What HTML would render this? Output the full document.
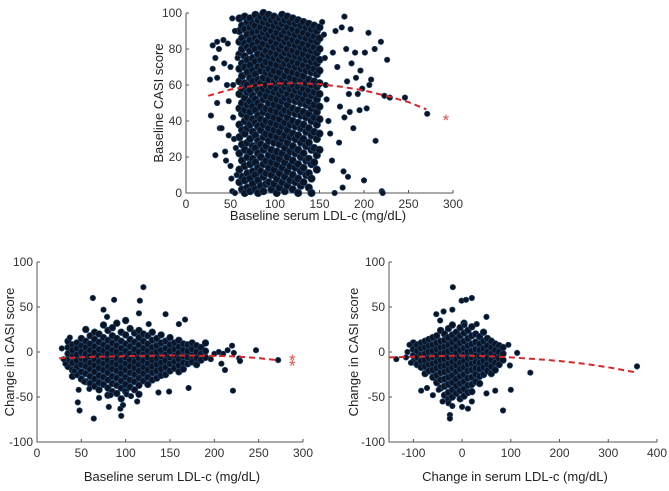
<!DOCTYPE html>
<html><head><meta charset="utf-8"><style>
html,body{margin:0;padding:0;background:#fff;}
svg{display:block;font-family:"Liberation Sans",sans-serif;}
</style></head><body>
<svg id="fig" width="669" height="491" viewBox="0 0 669 491"></svg>
<script>
// ---------- DATA ----------
const topCore = "60:97,90,84,77,69,62,55,47,38,31,22,13,6;63:93,86,80,72,65,58,50,44,35,27,18,9,2;66:98,91,83,76,70,61,53,46,40,33,24,15,7,0;69:95,88,81,74,67,60,56,49,42,36,28,20,11,3;72:97,92,85,79,71,64,57,51,45,38,30,23,16,8,1;75:94,89,82,75,68,62,54,48,41,34,26,19,12,5;78:99,93,86,80,73,66,59,52,46,39,32,25,17,10,2;81:96,90,84,77,70,63,57,50,43,37,29,22,14,7,0;84:98,92,87,81,74,68,61,55,48,41,35,27,20,12,4;87:100,95,89,83,77,71,64,58,52,45,38,31,24,16,9,1;90:97,91,86,79,73,67,60,54,47,40,33,26,18,11,5;93:99,94,88,82,76,69,63,57,50,43,36,29,21,14,6;96:96,90,84,78,72,66,59,53,46,39,32,24,17,10,2;99:98,93,87,81,75,68,62,56,49,42,35,28,20,13,5;102:95,89,83,77,71,64,58,52,45,38,31,23,16,8,0;105:97,92,86,80,74,67,61,55,48,41,34,27,19,11,3;108:99,94,88,82,76,70,63,57,51,44,37,30,22,14,6;111:96,90,84,78,72,65,59,53,46,39,32,25,17,9,1;114:98,92,86,80,74,68,61,55,49,42,35,28,20,12,4;117:95,89,83,77,71,64,58,52,45,38,31,23,15,7;120:97,91,85,79,73,67,60,54,47,40,33,26,18,10,2;123:94,88,82,76,70,63,57,51,44,37,30,22,14,6;126:96,90,84,78,72,66,59,53,46,39,32,24,16,8,0;129:93,87,81,75,69,62,56,50,43,36,28,20,12,4;132:95,89,83,77,71,65,58,52,45,38,30,22,14,6;135:92,86,80,74,68,61,55,49,42,34,26,18,10;138:94,88,82,76,70,63,57,51,44,36,28,19,11,3;141:91,85,79,73,67,60,54,47,40,32,24,16,8,0;144:93,87,81,75,69,62,56,49,42,34,25,17;147:90,84,78,72,66,59,52,45,38,30,21,13;150:92,86,80,74,68,61,55,48,41,33,24";
const topExtraX = [27,28,30,30,33,35,35,35,37,38,40,42,43,33,44,45,46,47,48,48,50,50,52,52,55,54,53,55,57,58,56,53,51,153,155,156,157,158,160,162,164,165,167,168,170,172,173,175,176,177,178,178,180,181,182,183,184,185,186,188,190,191,193,195,196,198,200,201,203,205,206,208,212,213,219,220,221,223,226,229,246,271];
const topExtraY = [63,43,82,69,75,84,64,50,80,36,36,85,72,21,23,18,60,83,51,32,15,70,97,1,0,30,42,90,10,75,25,60,8,95,88,75,60,52,40,33,18,78,0,90,70,28,48,92,3,12,98,42,80,62,9,55,45,91,72,36,78,64,55,46,68,58,7,78,47,89,60,63,80,29,84,1,0,54,74,53,53,44];
const topFitX = [25,50,75,100,125,150,175,200,225,250,270];
const topFitY = [54,57.5,59.5,60.8,61,60.5,59,57,54,50.5,46.5];

const blCore = "35:12,5,-2,-9,-16;40:8,2,-5,-12,-20,-27;45:10,4,-3,-10,-17,-25;50:15,7,0,-7,-14,-22,-30;55:25,12,5,-2,-9,-16,-24,-33;60:18,9,2,-5,-12,-19,-27,-35;65:22,14,6,-1,-8,-15,-22,-30,-38;70:20,11,3,-4,-11,-18,-26,-34,-42;75:30,16,8,1,-6,-13,-20,-28,-36;80:24,13,5,-2,-9,-16,-23,-31,-40,-48;85:27,18,10,2,-5,-12,-19,-27,-35,-44;90:32,15,7,0,-7,-14,-21,-29,-37,-46;95:22,12,4,-3,-10,-17,-24,-32,-40,-52;100:35,19,9,1,-6,-13,-20,-28,-36,-44;105:26,14,6,-2,-9,-16,-23,-31,-39;110:21,11,3,-4,-11,-18,-25,-33,-42;115:24,16,8,0,-7,-14,-21,-29,-37,-47;120:20,12,4,-3,-10,-17,-24,-32;125:18,9,1,-6,-13,-20,-28,-36;130:22,13,5,-2,-9,-16,-23,-31;135:15,7,0,-7,-14,-21,-29;140:19,10,2,-5,-12,-19,-26;145:12,4,-3,-10,-17,-25;150:16,8,1,-6,-13,-21;155:10,3,-4,-11,-18;160:13,6,-1,-8,-15,-22;165:9,2,-5,-12,-19;170:8,1,-6,-13;175:10,3,-4,-11;180:7,0,-7,-14;185:5,-2,-9;190:10,1,-6";
const blExtraX = [63,75,87,79,116,120,115,145,167,160,126,64,95,48,46,81,94,97,113,137,149,171,47,221,200,205,210,215,220,222,228,229,212,208,196,247,272,32,28,30,37,42,53,59,70,83,101,106];
const blExtraY = [60,47,58,39,57,72,43,42,36,31,31,-74,-71,-65,-56,-61,-63,-59,-55,-45,-44,-40,-42,-43,-2,0,-2,2,7,-1,-7,-10,-20,-13,-8,2,-9,-13,4,-8,16,-21,-33,-41,-51,-48,-47,-49];
const blFitX = [25,60,100,150,200,225,250,270];
const blFitY = [-7,-5.5,-4.5,-3.8,-4.3,-5,-6.8,-9];

const brCore = "-100:10,3,-4,-11;-92:8,1,-6,-14;-84:10,4,-3,-10,-17;-76:12,5,-2,-9,-16,-24;-68:14,7,0,-7,-14,-21;-60:16,8,1,-6,-13,-20,-28;-52:18,10,3,-4,-11,-18,-26,-34;-44:24,12,5,-2,-9,-16,-23,-31,-40;-36:20,13,6,-1,-8,-15,-22,-30,-38,-48;-28:26,16,8,1,-6,-13,-20,-28,-36,-45,-53;-20:30,19,11,3,-4,-11,-18,-26,-34,-42,-50;-12:22,14,6,-1,-8,-15,-22,-30,-38,-46;-4:27,18,10,2,-5,-12,-19,-27,-35,-43,-52;4:32,21,12,4,-3,-10,-17,-25,-33,-41,-49;12:24,15,7,0,-7,-14,-21,-29,-37,-45;20:28,18,9,1,-6,-13,-20,-28,-36,-44;28:20,11,3,-4,-11,-18,-25,-33;36:17,9,2,-5,-12,-19,-27,-35;44:22,12,4,-3,-10,-17,-25;52:15,7,0,-7,-14,-21;60:12,5,-2,-9,-16,-24;68:9,2,-5,-12,-20;76:7,0,-7,-14;84:5,-2,-9";
const brExtraX = [-135,-112,-108,-105,-115,-53,-38,-20,-19,-1,8,20,5,-45,50,30,-84,-72,-48,-40,-28,-25,-25,-20,0,12,20,50,68,84,100,98,95,113,140,359,-60];
const brExtraY = [-8,0,8,-12,-6,42,45,47,72,57,58,60,30,35,39,31,-43,-40,-42,-55,-57,-70,-74,-60,-61,-63,-55,-46,-43,-65,-42,-15,8,-1,-23,-16,-48];
const brFitX = [-150,-50,0,50,100,150,200,250,300,360];
const brFitY = [-6,-4.5,-4,-4.5,-6,-7.8,-10,-13,-17,-23];

const topXTicks = [0,50,100,150,200,250,300];
const topYTicks = [0,20,40,60,80,100];
const blXTicks = [0,50,100,150,200,250,300];
const brXTicks = [-100,0,100,200,300,400];
const chgYTicks = [-100,-50,0,50,100];

// ---------- DRAW ----------
const NS = "http://www.w3.org/2000/svg";
const svg = document.getElementById('fig');
function mk(tag, attrs, parent){ const e=document.createElementNS(NS,tag); for(const k in attrs) e.setAttribute(k,attrs[k]); (parent||svg).appendChild(e); return e; }
function parseCore(s){ const xs=[],ys=[]; s.split(';').forEach(c=>{const [x,l]=c.split(':'); l.split(',').forEach(v=>{xs.push(+x);ys.push(+v);});}); return [xs,ys]; }

function plot(cfg){
  const g = mk('g',{});
  
  
  const sx = v => cfg.px0 + (v-cfg.xmin)/(cfg.xmax-cfg.xmin)*(cfg.px1-cfg.px0);
  const sy = v => cfg.py0 - (v-cfg.ymin)/(cfg.ymax-cfg.ymin)*(cfg.py0-cfg.py1);
  const ax = mk('path',{d:`M${cfg.px0},${cfg.py1}V${cfg.py0}H${cfg.px1}`,stroke:'#555',fill:'none','stroke-width':1},g);
  
  
  cfg.xt.forEach(t=>{
    const x=sx(t);
    mk('line',{x1:x,x2:x,y1:cfg.py0,y2:cfg.py0-3,stroke:'#555'},g);
    const tx=mk('text',{x:x,y:cfg.py0+15,'text-anchor':'middle','font-size':12,fill:'#333'},g);
    tx.textContent=t;
    
    
  });
  cfg.yt.forEach(t=>{
    const y=sy(t);
    mk('line',{x1:cfg.px0,x2:cfg.px0+3,y1:y,y2:y,stroke:'#555'},g);
    const tx=mk('text',{x:cfg.px0-4,y:y+4,'text-anchor':'end','font-size':12,fill:'#333'},g);
    tx.textContent=t;
    
    
  });
  const xl=mk('text',{x:cfg.xlx,y:cfg.xly,'text-anchor':'middle','font-size':13,fill:'#222'},g);
  xl.textContent=cfg.xlabel;
  
  
  const yl=mk('text',{x:0,y:0,'text-anchor':'middle','font-size':13,fill:'#222',transform:`translate(${cfg.ylx},${cfg.yly}) rotate(-90)`},g);
  yl.textContent=cfg.ylabel;
  
  
  const [cx,cy]=parseCore(cfg.core);
  const X=cx.concat(cfg.ex), Y=cy.concat(cfg.ey);
  const pts=mk('g',{},g);
  
  
  for(let i=0;i<X.length;i++){
    const r = i<cx.length ? cfg.rc : 2.8;
    const c=mk('circle',{cx:sx(X[i]),cy:sy(Y[i]),r:r,fill:'#0a1424',stroke:'#25527e','stroke-width':0.6},pts);
    
    
  }
  const d=cfg.fx.map((v,i)=>(i?'L':'M')+sx(v)+','+sy(cfg.fy[i])).join('');
  const fit=mk('path',{d:d,stroke:'#d62728',fill:'none','stroke-width':2,'stroke-dasharray':'6,4'},g);
  
  
  (cfg.stars||[]).forEach(s=>{
    const st=mk('text',{x:sx(s[0]),y:sy(s[1])+7,'text-anchor':'middle','font-size':17,fill:'#d9534f'},g);
    st.textContent='*';
    
    
  });
}

plot({name:'top-chart',px0:186,px1:453,py0:193,py1:13,xmin:0,xmax:300,ymin:0,ymax:100,xt:topXTicks,yt:topYTicks,rc:3.8,
  xlabel:'Baseline serum LDL-c  (mg/dL)',xlx:318,xly:220,ylabel:'Baseline CASI score',ylx:163,yly:103,
  core:topCore,ex:topExtraX,ey:topExtraY,fx:topFitX,fy:topFitY,stars:[[292,41]]});
plot({name:'bottom-left-chart',px0:37,px1:303,py0:442,py1:262,xmin:0,xmax:300,ymin:-100,ymax:100,xt:blXTicks,yt:chgYTicks,rc:3.4,
  xlabel:'Baseline serum LDL-c  (mg/dL)',xlx:172,xly:481,ylabel:'Change in CASI score',ylx:14,yly:352,
  core:blCore,ex:blExtraX,ey:blExtraY,fx:blFitX,fy:blFitY,stars:[[288,-8],[288,-14]]});
plot({name:'bottom-right-chart',px0:389,px1:657,py0:442,py1:262,xmin:-150,xmax:400,ymin:-100,ymax:100,xt:brXTicks,yt:chgYTicks,rc:3.4,
  xlabel:'Change in serum LDL-c  (mg/dL)',xlx:515,xly:481,ylabel:'Change in CASI score',ylx:358,yly:352,
  core:brCore,ex:brExtraX,ey:brExtraY,fx:brFitX,fy:brFitY});
</script>
</body></html>
